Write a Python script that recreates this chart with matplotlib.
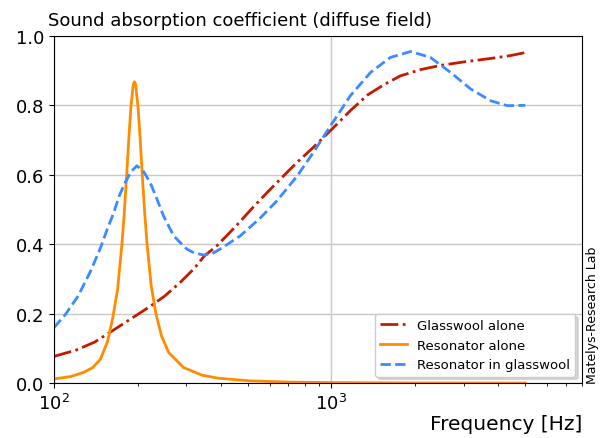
import matplotlib
matplotlib.use("Agg")
import matplotlib.pyplot as plt

# frequencies [Hz] and absorption values
freq_gw = [100, 120, 140, 159, 185, 222, 250, 285, 320, 348, 387, 450, 520,
           580, 655, 750, 850, 1000, 1171, 1350, 1550, 1774, 2100, 2473,
           3000, 3752, 4400, 5000]
alpha_gw = [0.077, 0.095, 0.118, 0.146, 0.18, 0.221, 0.25, 0.29, 0.33,
            0.366, 0.396, 0.45, 0.505, 0.545, 0.588, 0.635, 0.675, 0.73,
            0.785, 0.83, 0.86, 0.885, 0.903, 0.915, 0.925, 0.935, 0.943, 0.952]

freq_res = [100, 115, 128, 138, 147, 156, 163, 169.5, 175.7, 179, 182.8,
            185.7, 189.3, 193, 195, 197, 200.9, 204.8, 208, 212.5, 216.5,
            224, 233, 244, 259, 293, 341, 390, 507, 700, 1000, 2000, 5000]
alpha_res = [0.012, 0.019, 0.031, 0.045, 0.069, 0.12, 0.19, 0.27, 0.40,
             0.485, 0.60, 0.693, 0.794, 0.859, 0.868, 0.859, 0.794, 0.693,
             0.60, 0.485, 0.40, 0.281, 0.20, 0.136, 0.088, 0.045, 0.023,
             0.0143, 0.0066, 0.003, 0.0015, 0.0004, 0.0001]

freq_rg = [100, 110, 122, 135, 146.5, 155, 164, 172, 180.5, 190, 199, 210,
           222, 235, 248, 270, 301, 320, 346, 370, 397, 469, 553, 636, 750,
           850, 1000, 1171, 1384, 1632, 1929, 2273, 2684, 3177, 3752, 4305,
           5000]
alpha_rg = [0.16, 0.198, 0.25, 0.32, 0.386, 0.44, 0.49, 0.54, 0.578, 0.61,
            0.626, 0.61, 0.578, 0.53, 0.482, 0.424, 0.386, 0.375, 0.369,
            0.372, 0.386, 0.424, 0.475, 0.525, 0.595, 0.658, 0.745, 0.828,
            0.895, 0.938, 0.955, 0.938, 0.895, 0.847, 0.813, 0.799, 0.80]

fig = plt.figure(figsize=(6, 4.39), dpi=100)
ax = fig.add_axes([0.09, 0.125, 0.88, 0.791])

ax.semilogx(freq_gw, alpha_gw, color="#c41a00", ls="-.", lw=2,
            label="Glasswool alone")
ax.semilogx(freq_res, alpha_res, color="#ff8c00", ls="-", lw=2,
            label="Resonator alone")
ax.semilogx(freq_rg, alpha_rg, color="#3a8bff", ls="--", lw=2,
            label="Resonator in glasswool")

ax.set_xlim(100, 8000)
ax.set_ylim(0, 1)
ax.grid(True, which="major", color="#c8c8c8", lw=1)
ax.tick_params(labelsize=13)
ax.set_title("Sound absorption coefficient (diffuse field)", loc="left",
             x=-0.012, fontsize=13, pad=8)
ax.set_xlabel("Frequency [Hz]", loc="right", fontsize=14.5, labelpad=1)
ax.legend(loc="lower right", fontsize=9.5, framealpha=1,
          shadow={"facecolor": "0.75", "edgecolor": "0.75", "alpha": 0.6})
fig.text(0.988, 0.125, "Matelys-Research Lab", rotation=90, fontsize=9,
         ha="center", va="bottom")

fig.savefig("out.png", dpi=100)
